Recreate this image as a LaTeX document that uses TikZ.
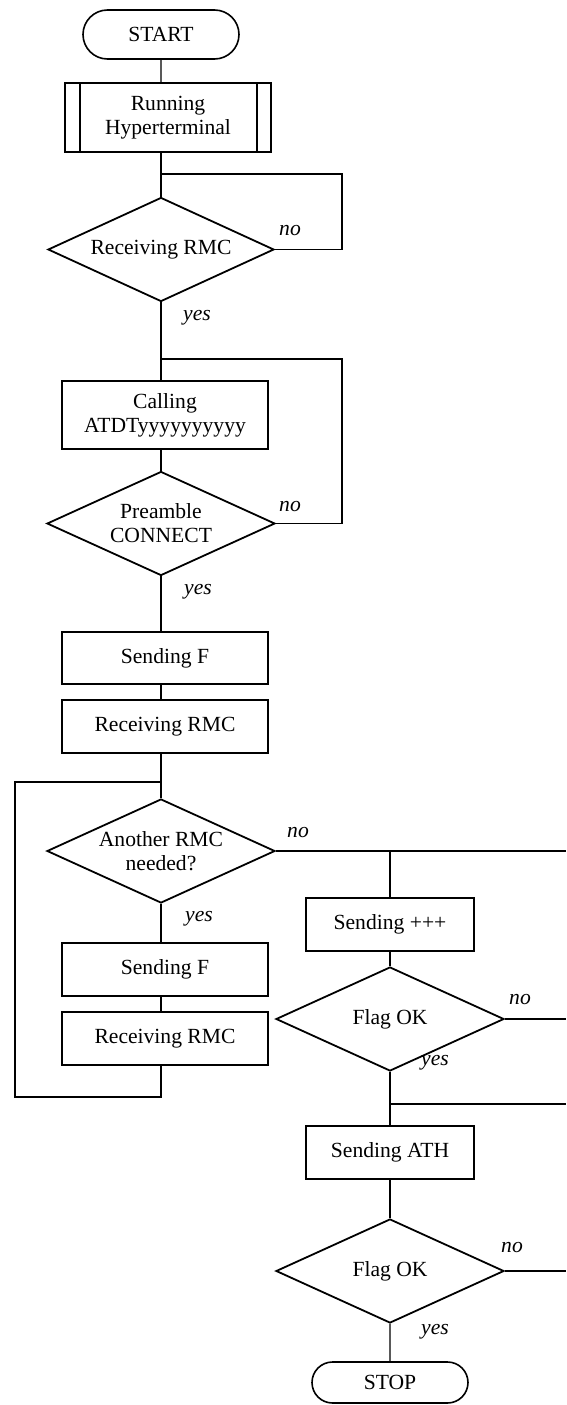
\documentclass[tikz,border=0pt]{standalone}
\usepackage{fontspec}
\setmainfont{Liberation Serif}
\usetikzlibrary{shapes.geometric,shapes.misc}

\begin{document}
\begin{tikzpicture}[x=1pt,y=-1pt,line width=1.2pt,
  font=\fontsize{21.6}{24}\selectfont,
  procbox/.style={draw,line width=1.8pt,minimum width=206pt,minimum height=53pt,
    inner sep=0pt,align=center},
  termbox/.style={draw,rounded rectangle,line width=1.6pt,minimum width=156pt,
    inner sep=0pt},
  decision/.style={draw,diamond,aspect=2.2,line width=1.8pt,inner sep=0pt,
    minimum width=228pt,minimum height=104pt,align=center},
  answer/.style={font=\fontsize{21.6}{24}\selectfont\itshape}]
  \useasboundingbox (0,0) rectangle (566,1405);

  % Main column
  \node[termbox,minimum height=49pt] (start) at (161,34.5) {START};
  \node[procbox,minimum height=69pt] (run) at (168,117.5) {Running\\Hyperterminal};
  \draw[line width=1.8pt] ([xshift=16pt]run.north west) -- ([xshift=16pt]run.south west);
  \draw[line width=1.8pt] ([xshift=-15pt]run.north east) -- ([xshift=-15pt]run.south east);
  \node[decision,minimum width=226pt] (rmcwait) at (161,249.5) {Receiving RMC};
  \node[procbox,minimum height=68pt] (call) at (165,415) {Calling\\ATDTyyyyyyyyyy};
  \node[decision] (preamble) at (161,523.5) {Preamble\\CONNECT};
  \node[procbox,minimum height=52pt] (sendf) at (165,658) {Sending F};
  \node[procbox] (recv) at (165,726.5) {Receiving RMC};
  \node[decision] (another) at (161,851) {Another RMC\\needed?};
  \node[procbox] (sendfb) at (165,969.5) {Sending F};
  \node[procbox] (recvb) at (165,1038.5) {Receiving RMC};

  % Closing branch
  \node[procbox,minimum width=168pt] (plus) at (390,924.5) {Sending +++};
  \node[decision] (flaga) at (390,1019) {Flag OK};
  \node[procbox,minimum width=168pt] (ath) at (390,1152.5) {Sending ATH};
  \node[decision] (flagb) at (390,1271) {Flag OK};
  \node[termbox,minimum height=41pt] (stop) at (390,1382.5) {STOP};

  % Answers
  \node[answer] (no1) at (290,231) {no};
  \node[answer] (yes1) at (197,318) {yes};
  \node[answer] (no2) at (290,507) {no};
  \node[answer] (yes2) at (198,592) {yes};
  \node[answer] (no3) at (298,833) {no};
  \node[answer] (yes3) at (199,919) {yes};
  \node[answer] (no4) at (520,1000) {no};
  \node[answer] (yes4) at (435,1063) {yes};
  \node[answer] (no5) at (512,1248) {no};
  \node[answer] (yes5) at (435,1332) {yes};

  % Junctions
  \coordinate (rim) at (566,0);
  \coordinate (loopa) at (161,174);
  \coordinate (loopaR) at (342,174);
  \coordinate (loopb) at (161,359);
  \coordinate (loopbR) at (342,359);
  \coordinate (loopc) at (161,782);
  \coordinate (loopcL) at (15,782);
  \coordinate (loopcB) at (15,1097);
  \coordinate (splitplus) at (390,851);
  \coordinate (joinath) at (390,1104);

  % Connectors
  \draw (start) -- (start |- run.north);
  \draw (rmcwait |- run.south) -- (rmcwait);
  \draw (loopa) -- (loopaR) |- (rmcwait.east);
  \draw (rmcwait) -- (rmcwait |- call.north);
  \draw (loopb) -- (loopbR) |- (preamble.east);
  \draw (preamble |- call.south) -- (preamble);
  \draw (preamble) -- (preamble |- sendf.north);
  \draw (preamble |- sendf.south) -- (preamble |- recv.north);
  \draw (another |- recv.south) -- (another);
  \draw (loopc) -- (loopcL) -- (loopcB) -- (loopcB -| another) -- (another |- recvb.south);
  \draw (another) -- (another |- sendfb.north);
  \draw (another |- sendfb.south) -- (another |- recvb.north);
  \draw (another.east) -- (another.east -| rim);
  \draw (splitplus) -- (plus);
  \draw (plus) -- (flaga);
  \draw (flaga.east) -- (flaga.east -| rim);
  \draw (flaga) -- (ath);
  \draw (joinath) -- (joinath -| rim);
  \draw (ath) -- (flagb);
  \draw (flagb.east) -- (flagb.east -| rim);
  \draw (flagb) -- (stop);
\end{tikzpicture}
\end{document}
